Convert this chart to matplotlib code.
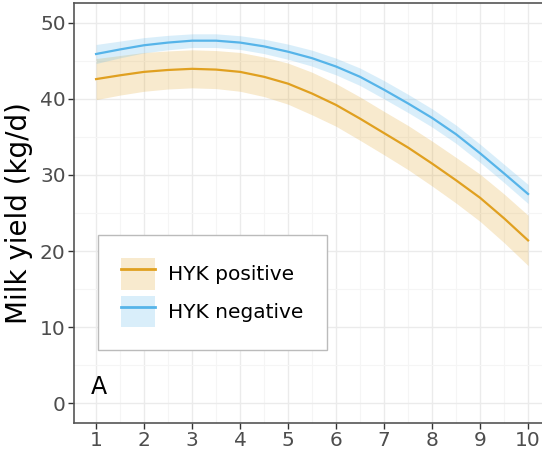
import matplotlib
matplotlib.use("Agg")
import matplotlib.pyplot as plt
from matplotlib.lines import Line2D
from matplotlib.patches import Patch
from matplotlib.ticker import MultipleLocator

# lactation month and predicted milk yield (kg/d) with confidence limits
month = [1, 1.5, 2, 2.5, 3, 3.5, 4, 4.5, 5, 5.5, 6, 6.5, 7, 7.5, 8, 8.5, 9, 9.5, 10]

pos_fit = [42.6, 43.1, 43.55, 43.8, 43.95, 43.85, 43.55, 42.9, 42.0, 40.7,
           39.2, 37.4, 35.5, 33.6, 31.5, 29.3, 27.0, 24.3, 21.4]
pos_lo = [39.9, 40.5, 41.0, 41.3, 41.45, 41.35, 41.0, 40.3, 39.3, 37.9,
          36.4, 34.55, 32.65, 30.7, 28.55, 26.3, 23.9, 21.1, 18.1]
pos_hi = [45.3, 45.7, 46.1, 46.3, 46.45, 46.35, 46.1, 45.5, 44.7, 43.5,
          42.0, 40.25, 38.35, 36.5, 34.45, 32.3, 30.1, 27.5, 24.7]

neg_fit = [45.9, 46.5, 47.05, 47.4, 47.65, 47.65, 47.4, 46.9, 46.2, 45.35,
           44.25, 42.9, 41.2, 39.4, 37.5, 35.35, 32.85, 30.2, 27.5]
neg_lo = [44.65, 45.4, 46.05, 46.45, 46.75, 46.75, 46.5, 45.95, 45.2, 44.3,
          43.15, 41.75, 40.0, 38.2, 36.3, 34.15, 31.65, 29.0, 26.25]
neg_hi = [47.15, 47.6, 48.05, 48.35, 48.55, 48.55, 48.3, 47.85, 47.2, 46.4,
          45.35, 44.05, 42.4, 40.6, 38.7, 36.55, 34.05, 31.4, 28.75]

labels = ["HYK positive", "HYK negative"]
col_pos = "#E0A020"
col_neg = "#56B4E9"
grid_major = "#EBEBEB"
grid_minor = "#F5F5F5"
tick_grey = "#4D4D4D"

fig = plt.figure(figsize=(5.42, 4.5), dpi=100)
ax = fig.add_axes([0.1365, 0.06, 0.8635, 0.9333])

ax.fill_between(month, pos_lo, pos_hi, color=col_pos, alpha=0.22, lw=0)
ax.fill_between(month, neg_lo, neg_hi, color=col_neg, alpha=0.22, lw=0)
ax.plot(month, pos_fit, color=col_pos, lw=1.6)
ax.plot(month, neg_fit, color=col_neg, lw=1.6)

ax.set_xlim(0.54, 10.29)
ax.set_ylim(-2.6, 52.6)
ax.xaxis.set_major_locator(MultipleLocator(1))
ax.xaxis.set_minor_locator(MultipleLocator(0.5))
ax.yaxis.set_major_locator(MultipleLocator(10))
ax.yaxis.set_minor_locator(MultipleLocator(5))
ax.grid(which="major", color=grid_major, lw=1.0)
ax.grid(which="minor", color=grid_minor, lw=0.8)
ax.set_axisbelow(True)

ax.tick_params(which="major", direction="out", length=4, width=1, color="#333333",
               labelsize=14.5, labelcolor=tick_grey, pad=2)
ax.tick_params(which="minor", length=0)
for side in ["left", "bottom", "top"]:
    ax.spines[side].set_color("#555555")
    ax.spines[side].set_linewidth(1.2)
ax.spines["right"].set_visible(False)

ax.set_ylabel("Milk yield (kg/d)", fontsize=20, labelpad=5)
ax.text(1.06, 2.1, "A", fontsize=17, ha="center", va="center")

handles = [
    (Patch(facecolor=col_pos, alpha=0.22, lw=0), Line2D([], [], color=col_pos, lw=2)),
    (Patch(facecolor=col_neg, alpha=0.22, lw=0), Line2D([], [], color=col_neg, lw=2)),
]
leg = ax.legend(handles, labels, loc="lower left", bbox_to_anchor=(0.051, 0.174),
                fontsize=14.5, frameon=True, fancybox=False, framealpha=1,
                edgecolor="#BBBBBB", handlelength=1.7, handleheight=2.0,
                handletextpad=0.65, borderpad=1.15, labelspacing=0.3,
                borderaxespad=0)
leg.get_frame().set_linewidth(1.0)

fig.savefig("out.png", dpi=100)
